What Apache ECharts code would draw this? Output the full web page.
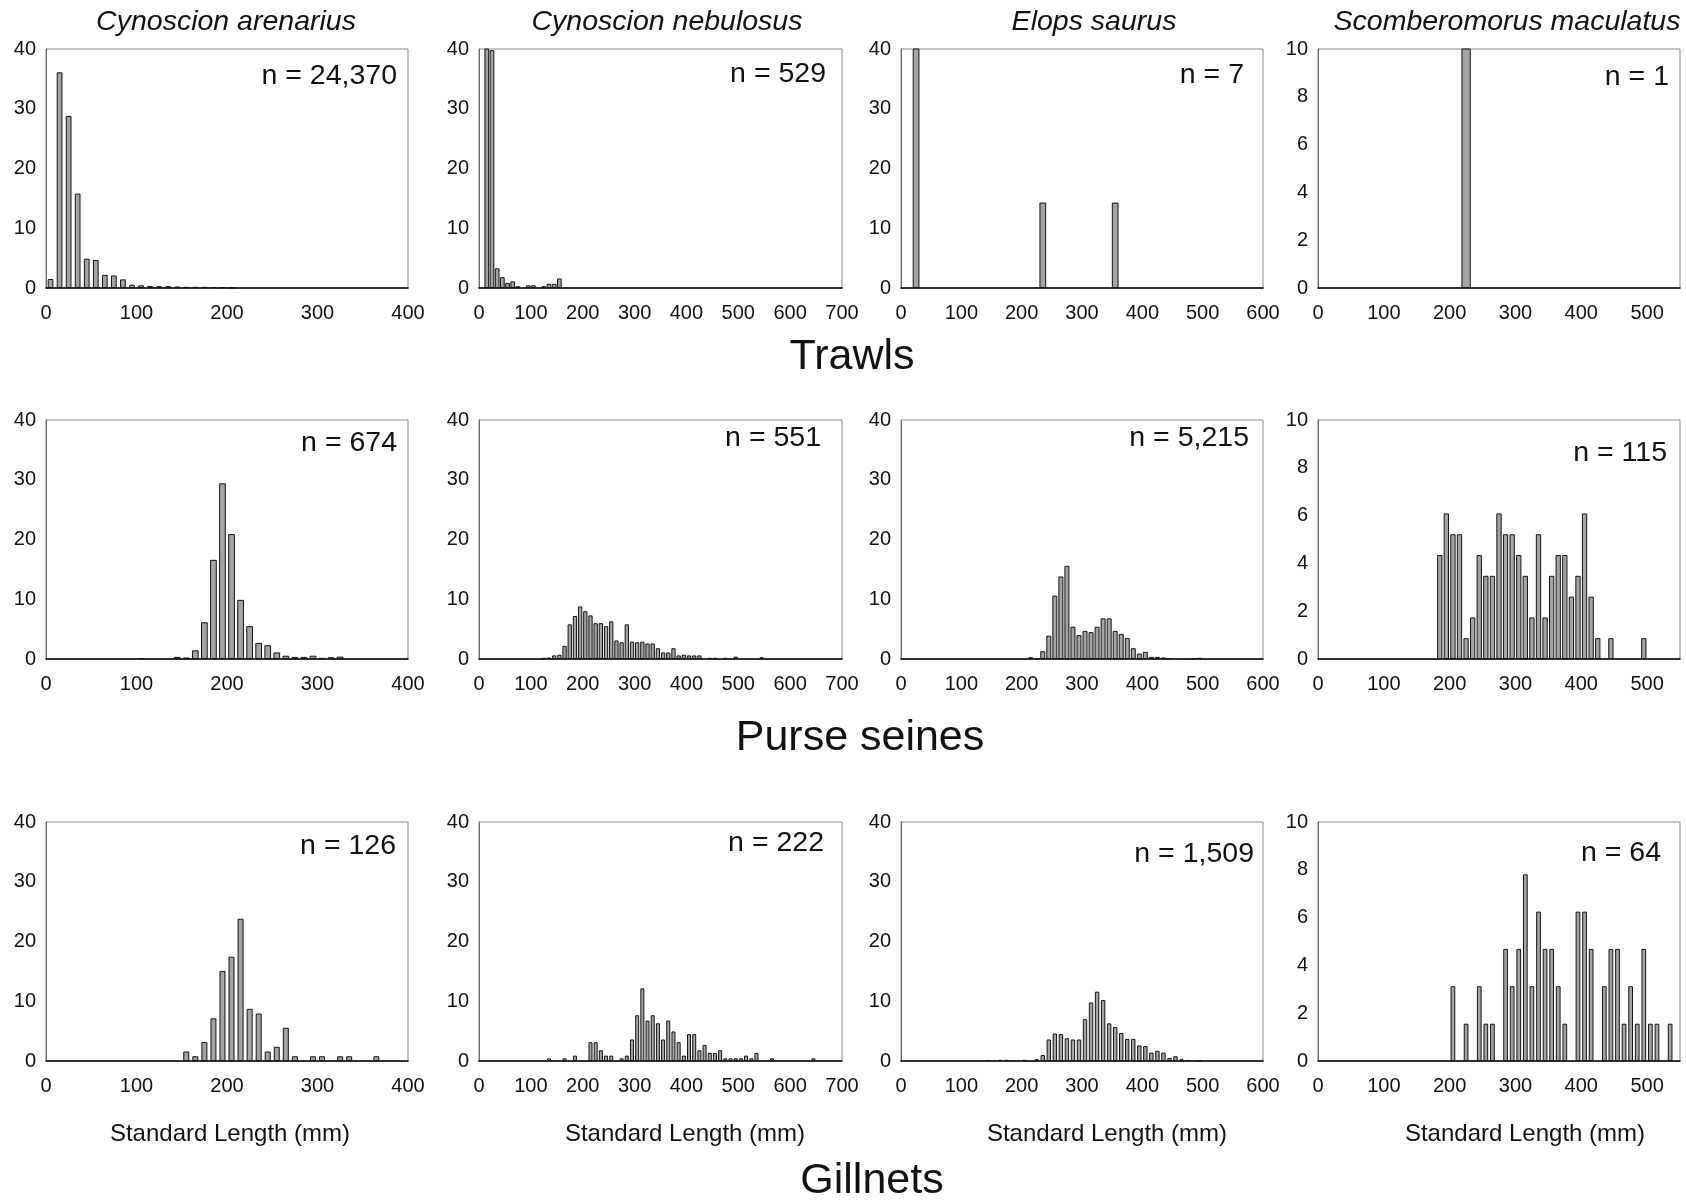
<!DOCTYPE html>
<html>
<head>
<meta charset="utf-8">
<title>Length-frequency distributions by gear</title>
<script src="https://cdn.jsdelivr.net/npm/echarts@6/dist/echarts.min.js"></script>
<style>
  html, body { margin: 0; padding: 0; background: #ffffff; }
  #chart { width: 1686px; height: 1200px; }
</style>
</head>
<body>
<div id="chart"></div>
<script>
// ---- Data: percent frequency per 10 mm standard-length bin (bin midpoints in mm) ----

// Column headings and gear rows
const species = ['Cynoscion arenarius', 'Cynoscion nebulosus', 'Elops saurus', 'Scomberomorus maculatus'];
const gears = ['Trawls', 'Purse seines', 'Gillnets'];
const sampleSizes = ['n = 24,370', 'n = 529', 'n = 7', 'n = 1',
                     'n = 674', 'n = 551', 'n = 5,215', 'n = 115',
                     'n = 126', 'n = 222', 'n = 1,509', 'n = 64'];

// Axis ranges per species column
const xMaxBySpecies = [400, 700, 600, 550];
const yMaxBySpecies = [40, 40, 40, 10];
const yStepBySpecies = [10, 10, 10, 2];

// Trawls
const trawlArenariusMm  = [5, 15, 25, 35, 45, 55, 65, 75, 85, 95, 105, 115, 125, 135, 145, 155, 165, 175, 185, 195, 205];
const trawlArenariusPct = [1.5, 36.1, 28.8, 15.8, 4.9, 4.7, 2.2, 2.1, 1.45, 0.55, 0.45, 0.35, 0.3, 0.3, 0.25, 0.2, 0.2, 0.2, 0.15, 0.1, 0.05];

const trawlNebulosusMm  = [15, 25, 35, 45, 55, 65, 75, 95, 105, 125, 135, 145, 155];
const trawlNebulosusPct = [48.5, 39.8, 3.3, 1.8, 0.85, 1.1, 0.3, 0.45, 0.45, 0.3, 0.7, 0.7, 1.6];

const trawlElopsMm  = [25, 235, 355];
const trawlElopsPct = [71.4, 14.3, 14.3];

const trawlScomberMm  = [225];
const trawlScomberPct = [100];

// Purse seines
const seineArenariusMm  = [105, 145, 155, 165, 175, 185, 195, 205, 215, 225, 235, 245, 255, 265, 275, 285, 295, 305, 315, 325];
const seineArenariusPct = [0.1, 0.35, 0.25, 1.45, 6.15, 16.6, 29.4, 20.9, 9.9, 5.5, 2.7, 2.3, 1.1, 0.55, 0.35, 0.35, 0.55, 0.2, 0.3, 0.4];

const seineNebulosusMm  = [125, 135, 145, 155, 165, 175, 185, 195, 205, 215, 225, 235, 245, 255, 265, 275, 285, 295,
                           305, 315, 325, 335, 345, 355, 365, 375, 385, 395, 405, 415, 425, 445, 455, 475, 495, 545];
const seineNebulosusPct = [0.2, 0.25, 0.6, 0.7, 2.2, 5.8, 7.2, 8.8, 8.0, 7.3, 6.0, 6.0, 5.5, 6.3, 3.1, 2.8, 5.8, 2.9,
                           2.8, 2.9, 2.6, 2.6, 1.8, 1.1, 1.1, 1.8, 0.6, 0.7, 0.6, 0.6, 0.6, 0.2, 0.2, 0.2, 0.4, 0.3];

const seineElopsMm  = [215, 225, 235, 245, 255, 265, 275, 285, 295, 305, 315, 325, 335, 345, 355, 365, 375,
                       385, 395, 405, 415, 425, 435, 445, 485, 495];
const seineElopsPct = [0.3, 0.1, 1.3, 3.9, 10.6, 13.8, 15.6, 5.4, 4.0, 4.7, 4.5, 5.4, 6.8, 6.8, 4.7, 4.2, 3.5,
                       1.8, 0.9, 1.2, 0.35, 0.35, 0.25, 0.1, 0.1, 0.2];

const seineScomberMm  = [185, 195, 205, 215, 225, 235, 245, 255, 265, 275, 285, 295, 305, 315, 325, 335, 345,
                         355, 365, 375, 385, 395, 405, 415, 425, 445, 495];
const seineScomberPct = [4.35, 6.09, 5.22, 5.22, 0.87, 1.74, 4.35, 3.48, 3.48, 6.09, 5.22, 5.22, 4.35, 3.48, 1.74, 5.22, 1.74,
                         3.48, 4.35, 4.35, 2.61, 3.48, 6.09, 2.61, 0.87, 0.87, 0.87];

// Gillnets
const gillArenariusMm  = [155, 165, 175, 185, 195, 205, 215, 225, 235, 245, 255, 265, 275, 295, 305, 325, 335, 365];
const gillArenariusPct = [1.59, 0.79, 3.17, 7.14, 15.08, 17.46, 23.81, 8.73, 7.94, 1.59, 2.38, 5.56, 0.79, 0.79, 0.79, 0.79, 0.79, 0.79];

const gillNebulosusMm  = [135, 165, 185, 215, 225, 235, 245, 255, 275, 285, 295, 305, 315, 325, 335, 345, 355, 365, 375,
                          385, 395, 405, 415, 425, 435, 445, 455, 465, 475, 485, 495, 505, 515, 525, 535, 565, 645];
const gillNebulosusPct = [0.45, 0.45, 0.9, 3.15, 3.15, 1.8, 0.9, 0.9, 0.45, 0.9, 3.6, 7.66, 12.16, 6.76, 7.66, 6.31, 3.6, 6.76, 4.95,
                          3.15, 0.9, 4.5, 4.5, 1.8, 2.7, 1.35, 1.35, 1.8, 0.45, 0.45, 0.45, 0.45, 0.9, 0.45, 1.35, 0.45, 0.45];

const gillElopsMm  = [145, 165, 175, 205, 225, 235, 245, 255, 265, 275, 285, 295, 305, 315, 325, 335, 345, 355, 365,
                      375, 385, 395, 405, 415, 425, 435, 445, 455, 465, 475, 495];
const gillElopsPct = [0.15, 0.2, 0.2, 0.2, 0.3, 1.0, 3.6, 4.6, 4.5, 3.8, 3.6, 3.6, 7.0, 9.8, 11.6, 10.2, 6.3, 5.7, 4.7,
                      3.7, 3.7, 2.6, 2.5, 1.4, 1.7, 1.4, 0.5, 0.8, 0.3, 0.15, 0.1];

const gillScomberMm  = [205, 225, 245, 255, 265, 285, 295, 305, 315, 325, 335, 345, 355, 365, 375, 395, 405, 415,
                        435, 445, 455, 465, 475, 485, 495, 505, 515, 535];
const gillScomberPct = [3.13, 1.56, 3.13, 1.56, 1.56, 4.69, 3.13, 4.69, 7.81, 3.13, 6.25, 4.69, 4.69, 3.13, 1.56, 6.25, 6.25, 4.69,
                        3.13, 4.69, 4.69, 1.56, 3.13, 1.56, 4.69, 1.56, 1.56, 1.56];

// Panel order: row by row (gear), left to right (species)
const panelData = [
  [trawlArenariusMm, trawlArenariusPct], [trawlNebulosusMm, trawlNebulosusPct], [trawlElopsMm, trawlElopsPct], [trawlScomberMm, trawlScomberPct],
  [seineArenariusMm, seineArenariusPct], [seineNebulosusMm, seineNebulosusPct], [seineElopsMm, seineElopsPct], [seineScomberMm, seineScomberPct],
  [gillArenariusMm, gillArenariusPct], [gillNebulosusMm, gillNebulosusPct], [gillElopsMm, gillElopsPct], [gillScomberMm, gillScomberPct]
];

// ---- Layout (pixels) ----
const colLeft = [46, 479, 901, 1318];
const colWidth = [362, 363, 362, 362];
const rowTop = [49, 420, 822];
const rowHeight = 239;
const barWidthPx = [5.7, 4.7, 6.7, 9.3, 6.7, 4.3, 5.0, 5.3, 6.0, 4.0, 4.4, 4.7];
const nLabelPos = [[397, 76], [826, 74], [1244, 75], [1669, 77],
                   [397, 443], [821, 438], [1249, 438], [1667, 453],
                   [396, 846], [824, 843], [1254, 854], [1661, 853]];
const speciesTitleX = [226, 667, 1094, 1507];
const speciesTitleY = 22;
const gearLabelPos = [[852, 357], [860, 738], [872, 1181]];
const xNameX = [230, 685, 1107, 1525];
const xNameY = 1134;

const FONT = '"Liberation Sans", Arial, Helvetica, sans-serif';
const INK = '#111111';

const grids = [], xAxes = [], yAxes = [], series = [], graphics = [];

panelData.forEach(function (pair, i) {
  const row = Math.floor(i / 4), col = i % 4;
  grids.push({
    left: colLeft[col], top: rowTop[row], width: colWidth[col], height: rowHeight,
    show: true, borderColor: '#8a8a8a', borderWidth: 1, backgroundColor: '#ffffff',
    containLabel: false
  });
  xAxes.push({
    type: 'value', gridIndex: i, min: 0, max: xMaxBySpecies[col], interval: 100,
    axisLine: { show: true, onZero: false, lineStyle: { color: '#000000', width: 1.6 } },
    axisTick: { show: false },
    splitLine: { show: false },
    axisLabel: { show: true, margin: 15, fontFamily: FONT, fontSize: 20, color: INK, showMaxLabel: col !== 3 }
  });
  yAxes.push({
    type: 'value', gridIndex: i, min: 0, max: yMaxBySpecies[col], interval: yStepBySpecies[col],
    axisLine: { show: true, lineStyle: { color: '#6a6a6a', width: 1 } },
    axisTick: { show: false },
    splitLine: { show: false },
    axisLabel: { show: true, margin: 10, fontFamily: FONT, fontSize: 20, color: INK }
  });
  const mm = pair[0], pct = pair[1];
  series.push({
    type: 'bar', xAxisIndex: i, yAxisIndex: i,
    data: mm.map(function (m, k) { return [m, pct[k]]; }),
    barWidth: barWidthPx[i],
    clip: true,
    itemStyle: { color: '#a4a4a4', borderColor: '#141414', borderWidth: 1 },
    emphasis: { disabled: true },
    animation: false
  });
  graphics.push({
    type: 'text', x: nLabelPos[i][0], y: nLabelPos[i][1], z: 10,
    style: { text: sampleSizes[i], font: '28.5px ' + FONT, fill: INK, textAlign: 'right', textVerticalAlign: 'middle' }
  });
});

species.forEach(function (name, c) {
  graphics.push({
    type: 'text', x: speciesTitleX[c], y: speciesTitleY,
    style: { text: name, font: 'italic 28.5px ' + FONT, fill: INK, textAlign: 'center', textVerticalAlign: 'middle' }
  });
  graphics.push({
    type: 'text', x: xNameX[c], y: xNameY,
    style: { text: 'Standard Length (mm)', font: '24px ' + FONT, fill: INK, textAlign: 'center', textVerticalAlign: 'middle' }
  });
});

gears.forEach(function (g, r) {
  graphics.push({
    type: 'text', x: gearLabelPos[r][0], y: gearLabelPos[r][1],
    style: { text: g, font: '43px ' + FONT, fill: INK, textAlign: 'center', textVerticalAlign: 'middle' }
  });
});

const chart = echarts.init(document.getElementById('chart'), null, { renderer: 'canvas' });
chart.setOption({
  backgroundColor: '#ffffff',
  animation: false,
  grid: grids,
  xAxis: xAxes,
  yAxis: yAxes,
  series: series,
  graphic: graphics
});
</script>
</body>
</html>
